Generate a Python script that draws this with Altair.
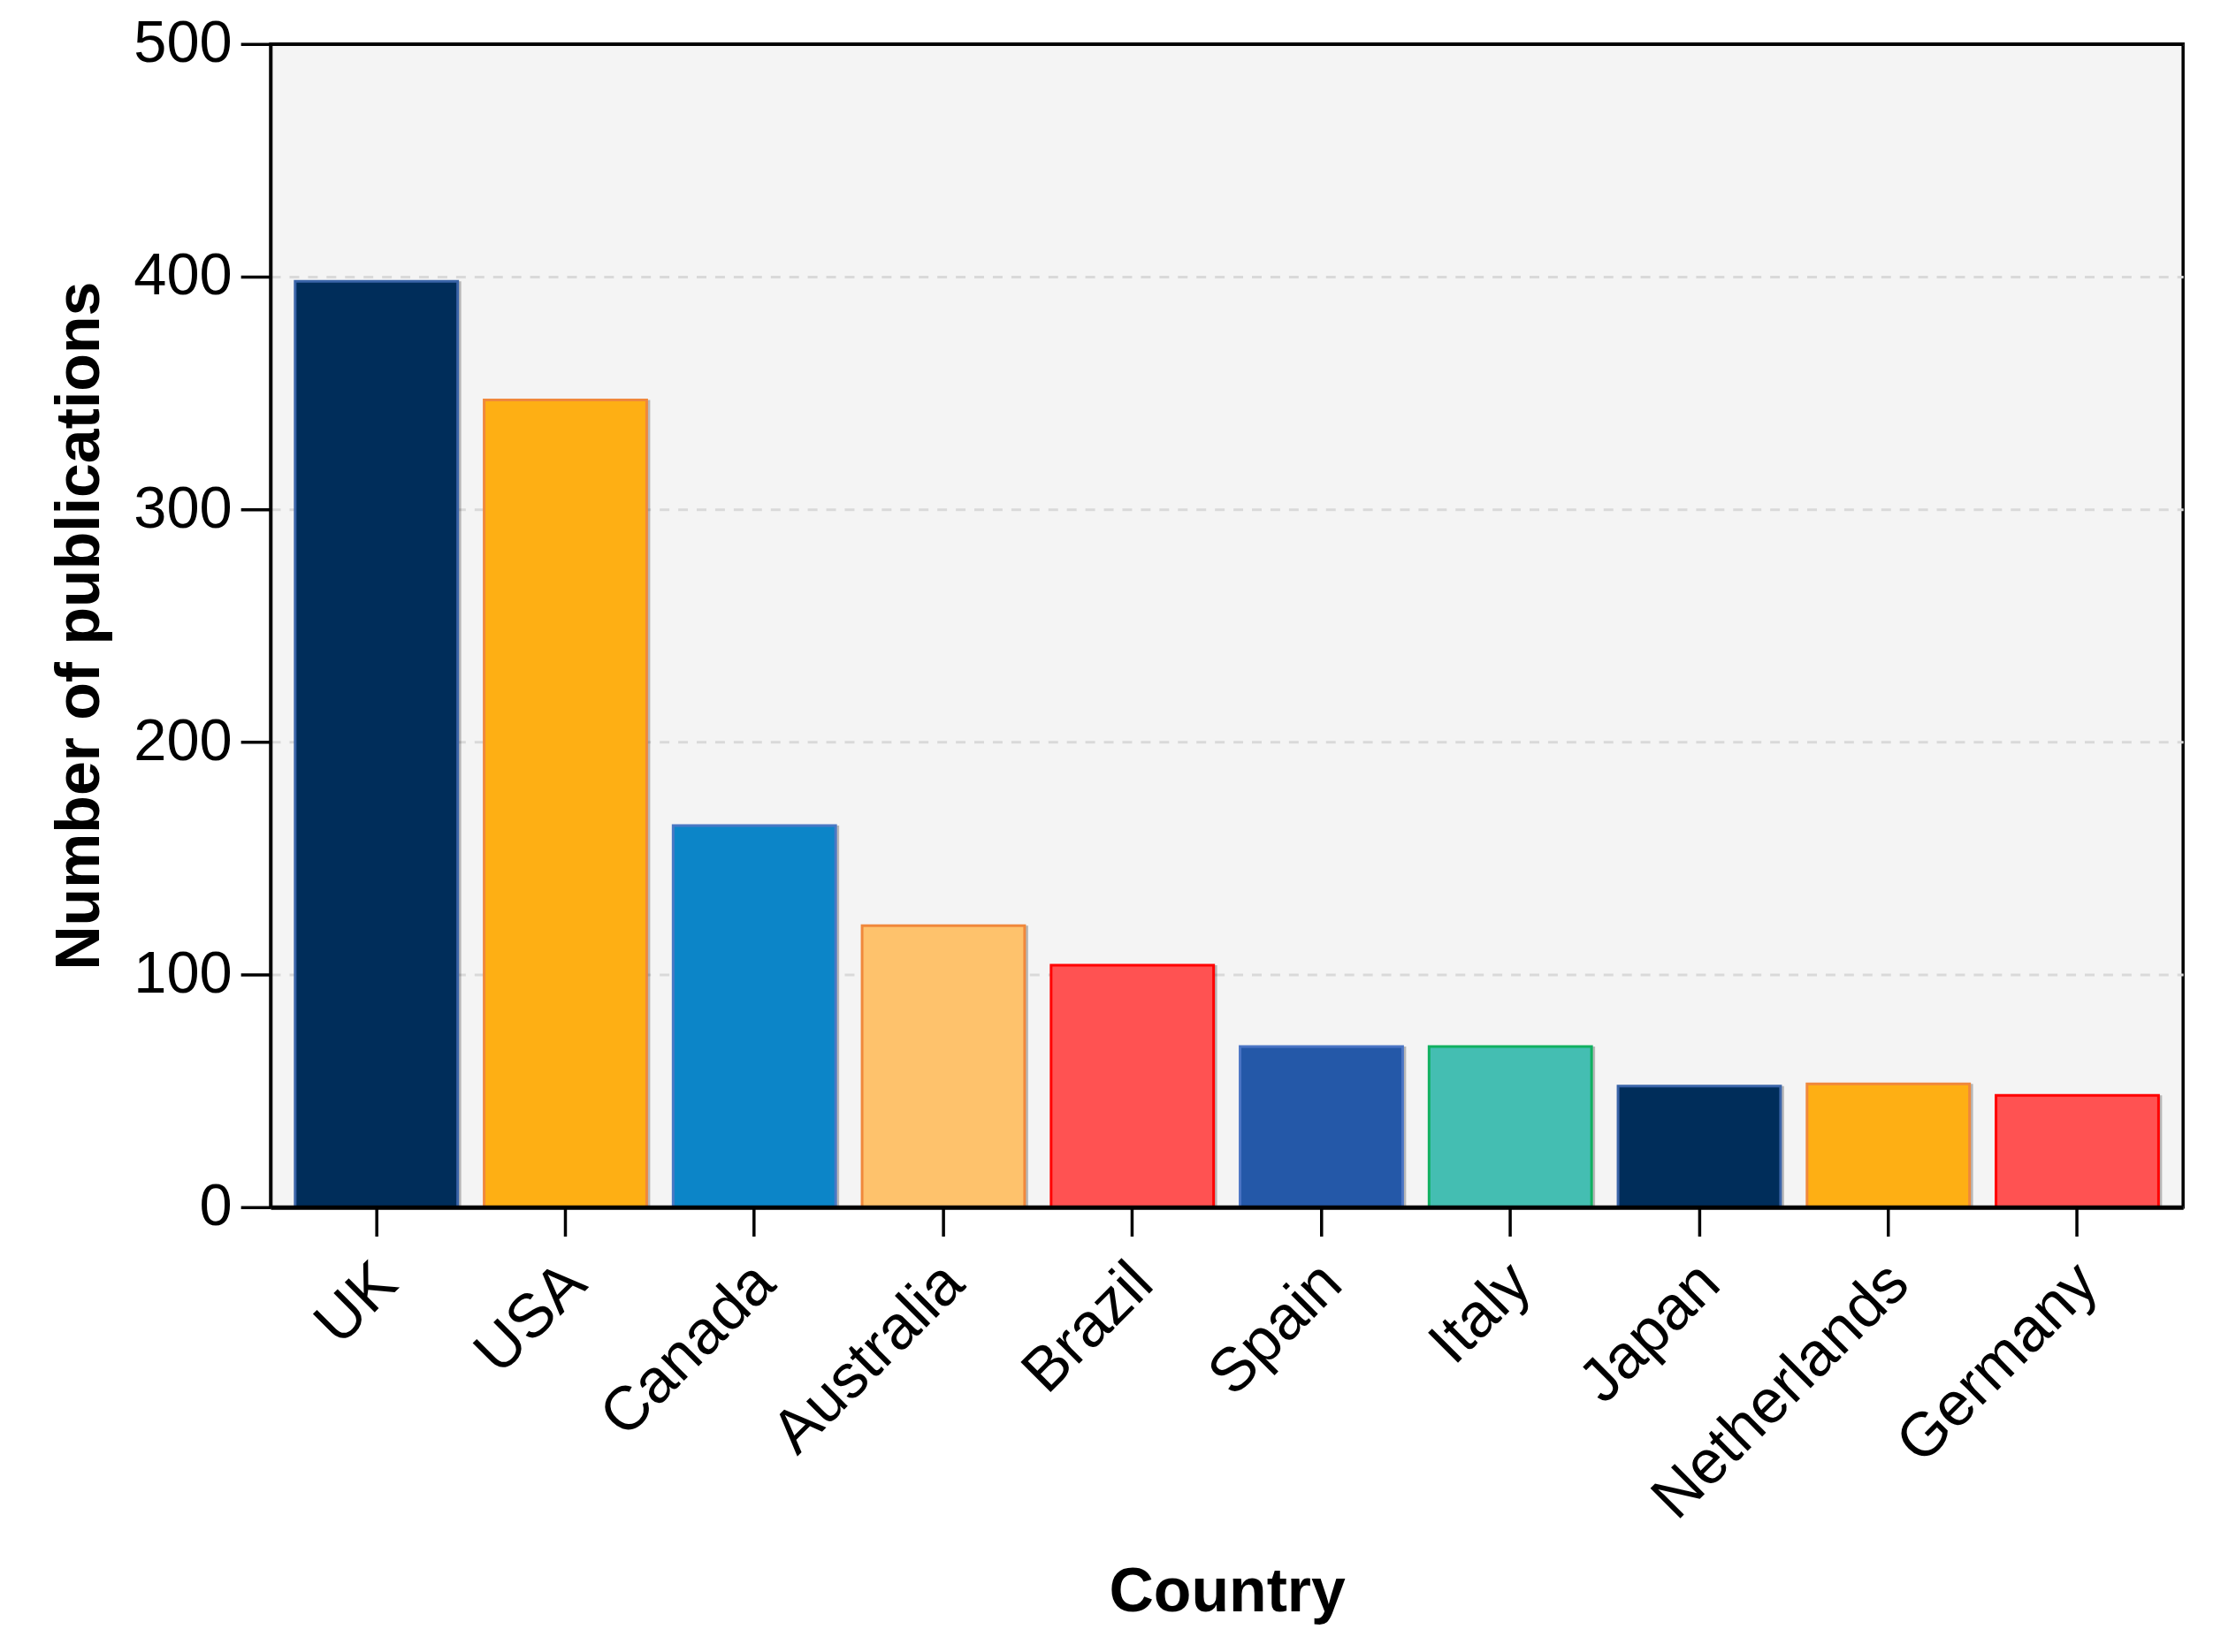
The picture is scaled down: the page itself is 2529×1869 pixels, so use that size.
import altair as alt
import pandas as pd

countries = ["UK", "USA", "Canada", "Australia", "Brazil", "Spain", "Italy", "Japan", "Netherlands", "Germany"]
publications = [398, 347, 164, 121, 104, 69, 69, 52, 53, 48]
fill_colors = ["#002d5a", "#feaf14", "#0c85c8", "#fec26c", "#ff5252", "#2458a8", "#44beb2", "#002d5a", "#feaf14", "#ff5252"]
stroke_colors = ["#3a64a8", "#f0883c", "#4a78c4", "#f0883c", "#ff0000", "#4a74c4", "#10b060", "#3a64a8", "#f0883c", "#ff0000"]
y_ticks = [0, 100, 200, 300, 400, 500]
y_max = 500

df = pd.DataFrame({"Country": countries, "Publications": publications})

FONT = "Liberation Sans"
W, H = 2170, 1320

x_enc = alt.X(
    "Country:N",
    sort=countries,
    scale=alt.Scale(paddingInner=0.14, paddingOuter=0.13),
    axis=alt.Axis(
        title="Country",
        labelAngle=-45,
        labelFont=FONT,
        labelFontSize=70,
        labelColor="black",
        labelPadding=18,
        labelOffset=-12,
        labelLimit=0,
        tickSize=33,
        tickWidth=3.5,
        tickColor="black",
        domainColor="black",
        domainWidth=5,
        grid=False,
        titleFont=FONT,
        titleFontSize=70,
        titleFontWeight="bold",
        titleColor="black",
        titleX=W / 2,
        titleY=458,
        titleBaseline="alphabetic",
        titleAlign="center",
        zindex=1,
    ),
)

y_enc = alt.Y(
    "Publications:Q",
    scale=alt.Scale(domain=[0, y_max], nice=False),
    axis=alt.Axis(
        title="Number of publications",
        values=y_ticks,
        labelFont=FONT,
        labelFontSize=67,
        labelColor="black",
        labelPadding=10,
        tickSize=34,
        tickWidth=3.5,
        tickColor="black",
        domainColor="black",
        domainWidth=3.5,
        grid=True,
        gridColor="#d9d9d9",
        gridDash=[11, 10],
        gridWidth=3,
        titleFont=FONT,
        titleFontSize=70,
        titleFontWeight="bold",
        titleColor="black",
        titleX=-195,
        titleY=H / 2,
        titleBaseline="alphabetic",
        titleAlign="center",
        titleAngle=270,
    ),
)

shadow = alt.Chart().mark_bar(color="black", opacity=0.25).encode(
    x=x_enc,
    y=y_enc,
    xOffset=alt.value(4),
)

bars = alt.Chart().mark_bar(strokeWidth=3).encode(
    x=x_enc,
    y=y_enc,
    color=alt.Color("Country:N", scale=alt.Scale(domain=countries, range=fill_colors), legend=None),
    stroke=alt.Stroke("Country:N", scale=alt.Scale(domain=countries, range=stroke_colors), legend=None),
)

top_frame = alt.Chart().mark_rule(color="black", strokeWidth=3.5).encode(
    y=alt.datum(y_max),
    x=alt.value(0),
    x2=alt.value(W),
)

chart = alt.layer(shadow, bars, top_frame, data=df).properties(
    width=W,
    height=H,
    padding={"left": 299, "top": 39, "right": 52, "bottom": 502},
    autosize=alt.AutoSizeParams(type="none"),
    background="white",
).configure_view(
    fill="#f4f4f4",
    stroke="black",
    strokeWidth=3.5,
)

chart.save("out.html", embed_options={"renderer": "svg", "actions": False})
